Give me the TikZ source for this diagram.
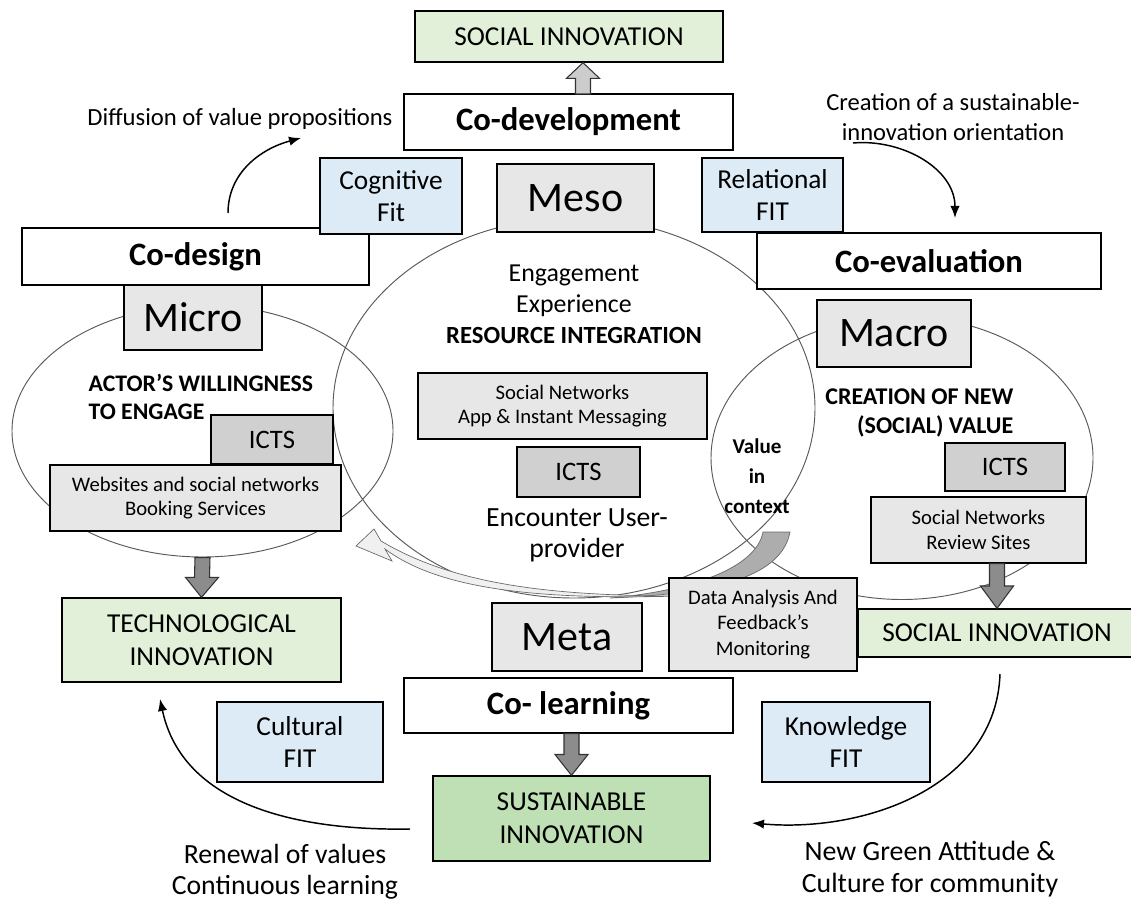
\documentclass[tikz,border=0pt]{standalone}
\usepackage{fontspec}
\setmainfont{Carlito}
\usepackage{tikz}
\usetikzlibrary{shapes.geometric, arrows.meta, positioning, calc}
\definecolor{innovgreen}{HTML}{E2F0D9}
\definecolor{sustgreen}{HTML}{BFE0B4}
\definecolor{fitblue}{HTML}{DDEBF7}
\definecolor{tiergray}{HTML}{E7E7E7}
\definecolor{ictgray}{HTML}{D0D0D0}
\newcommand{\pxu}{0.75pt}
\tikzset{
  boxline/.style={draw=black,line width=1pt,inner sep=0pt,align=center},
  dims/.style 2 args={minimum width=#1*\pxu,minimum height=#2*\pxu},
  phase/.style={boxline,fill=white,font=\fontsize{24.5}{28}\selectfont\bfseries},
  tier/.style={boxline,fill=tiergray,font=\fontsize{31.5}{36}\selectfont},
  fitbox/.style={boxline,fill=fitblue,font=\fontsize{20.5}{24.5}\selectfont},
  icts/.style={boxline,fill=ictgray,font=\fontsize{20}{24}\selectfont},
  tool/.style={boxline,fill=tiergray,font=\fontsize{15.5}{18.5}\selectfont},
  innov/.style={boxline,fill=innovgreen,font=\fontsize{20.5}{24.5}\selectfont},
  sphere/.style={ellipse,draw=black!65,line width=0.7pt,inner sep=0pt},
  caption/.style={align=center,font=\fontsize{20.8}{23.5}\selectfont},
  flow/.style={line width=1.1pt,-{Latex[length=9pt,width=7pt]},black},
  fatarrowline/.style={draw=black!80,line width=0.8pt,line join=miter},
  ribbondark/.style={fill=black!32,draw=black!60,line width=0.5pt},
  ribbonlight/.style={fill=black!6,draw=black!60,line width=0.5pt},
}
\newcommand{\fatarrow}[3][black!45]{%
  \filldraw[fatarrowline,fill=#1] ($(#2)+(-7.5,0)$) -- ($(#2)!0.5!(#3)+(-7.5,0)$)
    -- ($(#2)!0.5!(#3)+(-16.5,0)$) -- (#3) -- ($(#2)!0.5!(#3)+(16.5,0)$)
    -- ($(#2)!0.5!(#3)+(7.5,0)$) -- ($(#2)+(7.5,0)$) -- cycle;}

\begin{document}
\begin{tikzpicture}[x=0.75pt,y=-0.75pt]
  \fill[white] (0,0) rectangle (1131,902);
  \useasboundingbox (0,0) rectangle (1131,902);

  \node[sphere,dims={381}{252}] (microell) at (202.5,431) {};
  \node[sphere,dims={482}{380}] (mesoell) at (574,408) {};
  \node[sphere,dims={382}{283}] (macroell) at (902,458) {};

  \filldraw[ribbondark] (763,532) -- (790,532) .. controls (782,575) and (720,594) .. (610,598)
    .. controls (700,590) and (757,565) .. cycle;
  \filldraw[ribbonlight] (356,546) -- (374,529) -- (381,541) .. controls (450,582) and (540,596) .. (680,596)
    .. controls (540,600) and (440,590) .. (385,549) -- (392,561) -- cycle;

  \node[innov,dims={308}{51}] (sitop) at (569,36.5) {SOCIAL INNOVATION};
  \node[phase,dims={329}{56}] (codev) at (568.5,122) {Co-development};
  \node[phase,dims={347}{57}] (codesign) at (195.5,256.5) {Co-design};
  \node[fitbox,dims={142}{76}] (cogfit) at (391,196) {Cognitive\\Fit};
  \node[tier,dims={157}{68}] (meso) at (575.5,198) {Meso};
  \node[phase,dims={344}{56}] (coeval) at (929,261) {Co-evaluation};
  \node[fitbox,dims={141}{74}] (relfit) at (772.5,195) {Relational\\FIT};
  \node[tier,dims={138}{65}] (micro) at (193,317.5) {Micro};
  \node[tier,dims={154}{67}] (macro) at (894,333.5) {Macro};

  \node[icts,dims={122}{49}] (ictsmicro) at (272,439.5) {ICTS};
  \node[tool,dims={291}{66}] (webbox) at (195.5,498) {Websites and social networks\\Booking Services};
  \node[tool,dims={289}{66}] (appbox) at (562.5,406) {Social Networks\\App \& Instant Messaging};
  \node[icts,dims={123}{50}] (ictsmeso) at (578.5,472) {ICTS};
  \node[icts,dims={120}{48}] (ictsmacro) at (1005,467) {ICTS};
  \node[tool,dims={215}{66}] (reviewbox) at (978.5,530) {Social Networks\\Review Sites};

  \node[innov,dims={279}{84}] (techinnov) at (201.5,640) {TECHNOLOGICAL\\INNOVATION};
  \node[tool,dims={188}{93},font=\fontsize{15.5}{19}\selectfont] (databox) at (763,624.5) {Data Analysis And\\Feedback’s\\Monitoring};
  \node[tier,dims={150}{68}] (meta) at (567,637) {Meta};
  \node[innov,dims={278}{48}] (siright) at (997,633) {SOCIAL INNOVATION};
  \node[phase,dims={329}{55}] (colearn) at (568.5,705.5) {Co- learning};
  \node[fitbox,dims={166}{80}] (cultfit) at (300,742) {Cultural\\FIT};
  \node[fitbox,dims={168}{80}] (knowfit) at (846,742) {Knowledge\\FIT};
  \node[innov,fill=sustgreen,dims={277}{85}] (sustinnov) at (571.5,818.5) {SUSTAINABLE\\INNOVATION};

  \node[caption,font=\fontsize{18.5}{20}\selectfont] (diffusion) at (240,119) {Diffusion of value propositions};
  \node[caption,font=\fontsize{18.4}{22}\selectfont] (creation) at (953,117) {Creation of a sustainable-\\innovation orientation};
  \node[caption,align=left,anchor=west,font=\fontsize{17.8}{21}\selectfont\bfseries] (willing) at (84,397) {ACTOR’S WILLINGNESS\\TO ENGAGE};
  \node[caption,font=\fontsize{19.4}{23.25}\selectfont] (engage) at (574,304) {Engagement\\Experience\\\fontsize{18.5}{23.25}\selectfont\bfseries RESOURCE INTEGRATION};
  \node[caption] (encounter) at (577,535) {Encounter User-\\provider};
  \node[caption,font=\fontsize{15.8}{22.5}\selectfont\bfseries] (valctx) at (757,476) {Value\\in\\context};
  \node[caption,align=right,anchor=east,font=\fontsize{18}{21.5}\selectfont\bfseries] (newvalue) at (1018,413) {CREATION OF NEW\\(SOCIAL) VALUE};
  \node[caption] (renewal) at (285,872) {Renewal of values\\Continuous learning};
  \node[caption,font=\fontsize{20.9}{24}\selectfont] (greenatt) at (930,869) {New Green Attitude \&\\Culture for community};

  \coordinate (upfoot) at (583,94);
  \fatarrow[black!20]{upfoot}{upfoot |- sitop.south}
  \fatarrow{microell.south}{techinnov.north}
  \fatarrow{reviewbox.south -| siright.north}{siright.north}
  \fatarrow{colearn.south -| sustinnov.north}{sustinnov.north}

  \coordinate (diffstart) at (228,213);
  \coordinate (diffend) at (301,138);
  \coordinate (creastart) at (853,143);
  \coordinate (creaend) at (955,218);
  \coordinate (renewstart) at (410,829);
  \coordinate (renewend) at (160,699);
  \coordinate (greenstart) at (1000,674);
  \coordinate (greenend) at (752,823);
  \draw[flow] (diffstart) to[out=90,in=195] (diffend);
  \draw[flow] (creastart) to[out=5,in=90] (creaend);
  \draw[flow] (renewstart) to[out=181,in=-78] (renewend);
  \draw[flow] (greenstart) to[out=-92,in=-5] (greenend);
\end{tikzpicture}
\end{document}
